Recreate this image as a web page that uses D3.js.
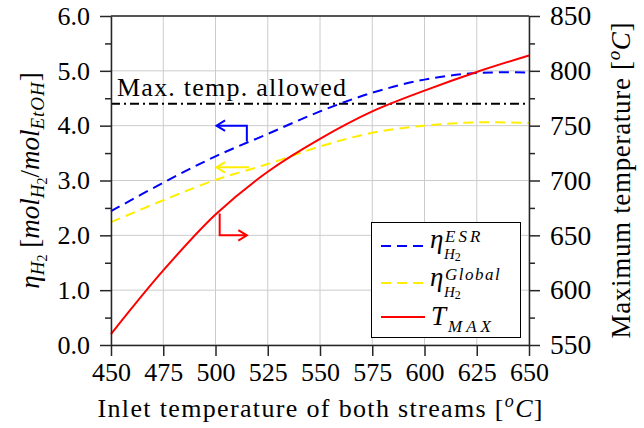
<!DOCTYPE html>
<html><head><meta charset="utf-8">
<script src="https://cdn.jsdelivr.net/npm/d3@7"></script>
<style>
html,body{margin:0;padding:0;background:#fff;}
svg{display:block;}
</style></head>
<body>
<script>
// ---- data ----
const inletT    = [450, 475, 500, 525, 550, 575, 600, 625, 650];
const etaESR    = [2.44, 2.96, 3.44, 3.85, 4.26, 4.60, 4.84, 4.96, 4.97];
const etaGlobal = [2.24, 2.64, 3.01, 3.30, 3.62, 3.87, 4.00, 4.06, 4.05];
const tMax      = [560, 618, 669, 708, 738, 763, 782, 799, 814];
const maxTempAllowed = 770;
const xTicks  = [450, 475, 500, 525, 550, 575, 600, 625, 650];
const yLTicks = [0, 1, 2, 3, 4, 5, 6];
const yLMinor = [0.5, 1.5, 2.5, 3.5, 4.5, 5.5];
const yRTicks = [550, 600, 650, 700, 750, 800, 850];
const yRMinor = [575, 625, 675, 725, 775, 825];
// annotation arrows (data units)
const arrowESR    = [[515, 3.71], [515, 4.0], [500.5, 4.0]];
const arrowGlobal = [[516, 3.24], [500.5, 3.24]];
const arrowTmax   = [[502, 670], [502, 650], [515, 650]];

const W = 644, H = 428;
const L = 111, R = 529, T = 16, B = 345;
const FONT = '"Liberation Serif","Times New Roman",serif';
const AX = '#262626';
const C_BLUE = '#0000ff', C_YEL = '#ffee00', C_RED = '#ff0000';

const svg = d3.select('body').append('svg').attr('width', W).attr('height', H)
  .attr('font-family', FONT);

const x  = d3.scaleLinear().domain([450, 650]).range([L, R]);
const yL = d3.scaleLinear().domain([0, 6]).range([B, T]);
const yR = d3.scaleLinear().domain([550, 850]).range([B, T]);

// grid
const grid = svg.append('g').attr('stroke', '#cccccc').attr('stroke-width', 1);
grid.selectAll('.gx').data(xTicks).join('line')
  .attr('x1', d => x(d)).attr('x2', d => x(d)).attr('y1', T).attr('y2', B);
grid.selectAll('.gy').data(yLTicks).join('line')
  .attr('x1', L).attr('x2', R).attr('y1', d => yL(d)).attr('y2', d => yL(d));

// lines
const curve = d3.curveCatmullRom.alpha(0.5);
const lineL = (arr) => d3.line().x((d, i) => x(inletT[i])).y(d => yL(d)).curve(curve)(arr);
const lineR = (arr) => d3.line().x((d, i) => x(inletT[i])).y(d => yR(d)).curve(curve)(arr);

svg.append('line').attr('x1', x(450)).attr('x2', x(650))
  .attr('y1', yR(maxTempAllowed)).attr('y2', yR(maxTempAllowed))
  .attr('stroke', '#000').attr('stroke-width', 2).attr('stroke-dasharray', '9,4,2,4');

svg.append('path').attr('d', lineL(etaGlobal)).attr('fill', 'none')
  .attr('stroke', C_YEL).attr('stroke-width', 2).attr('stroke-dasharray', '10,6');
svg.append('path').attr('d', lineL(etaESR)).attr('fill', 'none')
  .attr('stroke', C_BLUE).attr('stroke-width', 2).attr('stroke-dasharray', '10,6');
svg.append('path').attr('d', lineR(tMax)).attr('fill', 'none')
  .attr('stroke', C_RED).attr('stroke-width', 2);

// arrows
function drawArrow(pts, yScale, color) {
  const p = pts.map(d => [x(d[0]), yScale(d[1])]);
  svg.append('path').attr('d', d3.line()(p)).attr('fill', 'none')
    .attr('stroke', color).attr('stroke-width', 2);
  const a = p[p.length - 1], b = p[p.length - 2];
  const ang = Math.atan2(a[1] - b[1], a[0] - b[0]);
  const len = 10, spread = 0.55;
  const h1 = [a[0] - len * Math.cos(ang - spread), a[1] - len * Math.sin(ang - spread)];
  const h2 = [a[0] - len * Math.cos(ang + spread), a[1] - len * Math.sin(ang + spread)];
  svg.append('path').attr('d', d3.line()([h1, a, h2])).attr('fill', 'none')
    .attr('stroke', color).attr('stroke-width', 2);
}
drawArrow(arrowESR, yL, C_BLUE);
drawArrow(arrowGlobal, yL, C_YEL);
drawArrow(arrowTmax, yR, C_RED);

// text annotation
svg.append('text').attr('x', 117).attr('y', yR(maxTempAllowed) - 7.5)
  .attr('font-size', 26).attr('textLength', 229).attr('lengthAdjust', 'spacing')
  .attr('fill', '#000').text('Max. temp. allowed');

// axes
function styleAxis(g, fs) {
  g.attr('font-family', FONT).attr('font-size', fs);
  g.select('.domain').attr('stroke', AX).attr('stroke-width', 1.5);
  g.selectAll('.tick line').attr('stroke', AX).attr('stroke-width', 1.5);
  g.selectAll('.tick text').attr('fill', '#000');
}
const gx = svg.append('g').attr('transform', `translate(0,${B})`)
  .call(d3.axisBottom(x).tickValues(xTicks).tickFormat(d3.format('d')).tickSize(11).tickSizeOuter(0).tickPadding(7));
styleAxis(gx, 26);

const gl = svg.append('g').attr('transform', `translate(${L},0)`)
  .call(d3.axisLeft(yL).tickValues(yLTicks).tickFormat(d3.format('.1f')).tickSize(11).tickSizeOuter(0).tickPadding(10));
styleAxis(gl, 26);
const glm = svg.append('g').attr('transform', `translate(${L},0)`)
  .call(d3.axisLeft(yL).tickValues(yLMinor).tickFormat('').tickSize(6).tickSizeOuter(0));
glm.select('.domain').remove();
glm.selectAll('.tick line').attr('stroke', AX).attr('stroke-width', 1.5);

const gr = svg.append('g').attr('transform', `translate(${R},0)`)
  .call(d3.axisRight(yR).tickValues(yRTicks).tickFormat(d3.format('d')).tickSize(11).tickSizeOuter(0).tickPadding(10));
styleAxis(gr, 27.5);
const grm = svg.append('g').attr('transform', `translate(${R},0)`)
  .call(d3.axisRight(yR).tickValues(yRMinor).tickFormat('').tickSize(6).tickSizeOuter(0));
grm.select('.domain').remove();
grm.selectAll('.tick line').attr('stroke', AX).attr('stroke-width', 1.5);

svg.append('line').attr('x1', L).attr('x2', R).attr('y1', T).attr('y2', T)
  .attr('stroke', AX).attr('stroke-width', 1.5);

// axis titles
const xt = svg.append('text').attr('x', 320).attr('y', 417)
  .attr('text-anchor', 'middle').attr('font-size', 26).attr('fill', '#000')
  .attr('textLength', 445).attr('lengthAdjust', 'spacing');
xt.append('tspan').text('Inlet temperature of both streams [');
xt.append('tspan').attr('font-style', 'italic').attr('font-size', 18).attr('dy', -10).text('o');
xt.append('tspan').attr('font-style', 'italic').attr('dy', 10).text('C');
xt.append('tspan').text(']');

const yt = svg.append('text').attr('transform', `translate(39,${(T + B) / 2}) rotate(-90)`)
  .attr('text-anchor', 'middle').attr('font-size', 27).attr('fill', '#000');
yt.append('tspan').attr('font-style', 'italic').text('η');
yt.append('tspan').attr('font-style', 'italic').attr('font-size', 19).attr('dy', 5).text('H');
yt.append('tspan').attr('font-size', 14).attr('dy', 3).text('2');
yt.append('tspan').attr('dy', -8).text(' [');
yt.append('tspan').attr('font-style', 'italic').text('mol');
yt.append('tspan').attr('font-style', 'italic').attr('font-size', 19).attr('dy', 5).text('H');
yt.append('tspan').attr('font-size', 14).attr('dy', 3).text('2');
yt.append('tspan').attr('dy', -8).text('/');
yt.append('tspan').attr('font-style', 'italic').text('mol');
yt.append('tspan').attr('font-style', 'italic').attr('font-size', 19).attr('dy', 5).attr('letter-spacing', 1).text('EtOH');
yt.append('tspan').attr('dy', -5).text(']');

const rt = svg.append('text').attr('transform', `translate(630,${(T + B) / 2}) rotate(-90)`)
  .attr('text-anchor', 'middle').attr('font-size', 27).attr('fill', '#000')
  .attr('textLength', 316).attr('lengthAdjust', 'spacing');
rt.append('tspan').text('Maximum temperature [');
rt.append('tspan').attr('font-style', 'italic').attr('font-size', 19).attr('dy', -10).text('o');
rt.append('tspan').attr('font-style', 'italic').attr('dy', 10).text('C');
rt.append('tspan').text(']');

// legend
const leg = svg.append('g');
leg.append('rect').attr('x', 371.5).attr('y', 222.5).attr('width', 149).attr('height', 115)
  .attr('fill', '#fff').attr('stroke', '#000').attr('stroke-width', 1);
const legItems = [
  {color: C_BLUE, dash: '10,6', y: 246},
  {color: C_YEL, dash: '10,6', y: 283},
  {color: C_RED, dash: null, y: 317}
];
legItems.forEach(it => {
  leg.append('line').attr('x1', 381).attr('x2', 425).attr('y1', it.y).attr('y2', it.y)
    .attr('stroke', it.color).attr('stroke-width', 2).attr('stroke-dasharray', it.dash);
});
function eta(yb, sup, ls) {
  leg.append('text').attr('x', 430).attr('y', yb).attr('font-size', 27)
    .attr('font-style', 'italic').attr('fill', '#000').text('η');
  leg.append('text').attr('x', 445).attr('y', yb - 6).attr('font-size', 17)
    .attr('font-style', 'italic').attr('letter-spacing', ls).attr('fill', '#000').text(sup);
  const s = leg.append('text').attr('x', 444).attr('y', yb + 11).attr('fill', '#000');
  s.append('tspan').attr('font-size', 15).attr('font-style', 'italic').text('H');
  s.append('tspan').attr('font-size', 12).attr('dy', 2).text('2');
}
eta(248, 'ESR', 3);
eta(286, 'Global', 1.5);
leg.append('text').attr('x', 431).attr('y', 325).attr('font-size', 27)
  .attr('font-style', 'italic').attr('fill', '#000').text('T');
leg.append('text').attr('x', 448).attr('y', 332).attr('font-size', 17)
  .attr('font-style', 'italic').attr('letter-spacing', 4).attr('fill', '#000').text('MAX');
</script>
</body></html>
